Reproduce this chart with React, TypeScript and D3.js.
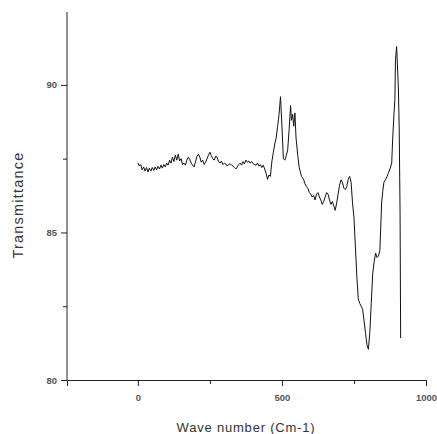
import React, { useEffect, useRef } from 'react';
import * as d3 from 'd3';

// FTIR spectrum
const waveNumber = [
	0, 5, 10, 15, 20, 25, 30, 35, 40, 45, 50, 55, 60, 65, 70, 75, 80, 85, 90, 95,
	100, 105, 110, 115, 120, 125, 130, 135, 140, 145, 150, 155, 160, 165, 170, 175, 180, 185, 190, 195,
	200, 205, 210, 215, 220, 225, 230, 235, 240, 245, 250, 255, 260, 265, 270, 275, 280, 285, 290, 295,
	300, 305, 310, 315, 320, 325, 330, 335, 340, 345, 350, 355, 360, 365, 370, 375, 380, 385, 390, 395,
	400, 405, 410, 415, 420, 425, 430, 435, 440, 445, 450, 455, 460, 465, 470, 475, 480, 485, 490, 495,
	500, 505, 510, 515, 520, 525, 530, 533, 537, 541, 545, 549, 555, 560, 568, 575, 580, 585, 590, 595,
	600, 605, 610, 615, 620, 625, 630, 635, 640, 645, 650, 655, 660, 665, 670, 675, 680, 685, 690, 695,
	700, 705, 710, 715, 720, 725, 730, 735, 740, 745, 750, 755, 760, 765, 770, 775, 780, 785, 790, 795,
	800, 805, 810, 815, 820, 825, 830, 835, 840, 846, 850, 854, 860, 865, 869, 875, 881, 884, 889, 892,
	894, 898, 904, 907, 910, 912,
];
const transmittance = [
	87.36, 87.25, 87.3, 87.12, 87.22, 87.08, 87.2, 87.05, 87.18, 87.08, 87.2, 87.1, 87.22, 87.12, 87.24, 87.15, 87.28, 87.18, 87.3, 87.22,
	87.35, 87.28, 87.45, 87.35, 87.55, 87.4, 87.62, 87.45, 87.65, 87.42, 87.5, 87.3, 87.35, 87.28, 87.45, 87.55, 87.48, 87.35, 87.28, 87.22,
	87.4, 87.58, 87.65, 87.55, 87.38, 87.45, 87.3, 87.38, 87.5, 87.62, 87.72, 87.6, 87.5, 87.45, 87.58, 87.55, 87.4, 87.35, 87.42, 87.3,
	87.35, 87.32, 87.25, 87.3, 87.33, 87.28, 87.25, 87.2, 87.15, 87.22, 87.3, 87.35, 87.28, 87.4, 87.32, 87.45, 87.38, 87.42, 87.35, 87.4,
	87.33, 87.3, 87.28, 87.35, 87.25, 87.3, 87.2, 87.28, 87.15, 87.0, 86.8, 86.95, 86.9, 87.4, 87.7, 88.0, 88.2, 88.6, 89.0, 89.6,
	88.6, 87.5, 87.45, 87.6, 87.8, 88.5, 89.3, 88.8, 89.0, 88.6, 89.05, 88.2, 87.6, 87.2, 86.9, 86.8, 86.65, 86.55, 86.5, 86.35,
	86.3, 86.2, 86.25, 86.1, 86.3, 86.35, 86.2, 86.1, 85.95, 86.05, 86.2, 86.35, 86.3, 86.1, 85.95, 86.05, 85.9, 85.75, 86.0, 86.3,
	86.6, 86.78, 86.7, 86.5, 86.45, 86.55, 86.8, 86.9, 86.7, 86.0, 85.5, 84.5, 83.5, 82.75, 82.6, 82.5, 82.4, 82.0, 81.6, 81.2,
	81.04, 81.6, 82.6, 83.6, 84.0, 84.3, 84.15, 84.2, 84.4, 86.0, 86.4, 86.7, 86.8, 86.9, 87.0, 87.15, 87.35, 88.1, 89.04, 89.5,
	90.85, 91.3, 89.95, 88.5, 85.66, 81.42,
];

const xTicks = [0, 500, 1000];
const xMinorTicks = [250, 750];
const yTicks = [80, 85, 90];
const yMinorTicks = [82.5, 87.5];

const width = 437;
const height = 434;
const margin = { left: 67, right: 11, top: 12, bottom: 54 };

export default function App() {
	const ref = useRef<SVGSVGElement>(null);

	useEffect(() => {
		const svg = d3.select(ref.current);
		svg.selectAll('*').remove();

		const x = d3.scaleLinear().domain([-246, 1000]).range([margin.left, width - margin.right]);
		const y = d3.scaleLinear().domain([80, 92.47]).range([height - margin.bottom, margin.top]);

		const g = svg.append('g').style('font-family', '"Liberation Sans", Arial, sans-serif');

		// axes
		const xAxis = g
			.append('g')
			.attr('transform', `translate(0,${height - margin.bottom})`)
			.call(d3.axisBottom(x).tickValues(xTicks).tickSize(6).tickSizeOuter(6).tickPadding(8).tickFormat(d3.format('d')));
		g.append('g')
			.attr('transform', `translate(0,${height - margin.bottom})`)
			.call(d3.axisBottom(x).tickValues(xMinorTicks).tickSize(4).tickSizeOuter(0).tickFormat(() => ''))
			.select('.domain')
			.remove();
		const yAxis = g
			.append('g')
			.attr('transform', `translate(${margin.left},0)`)
			.call(d3.axisLeft(y).tickValues(yTicks).tickSize(6).tickSizeOuter(0).tickPadding(4).tickFormat(d3.format('d')));
		g.append('g')
			.attr('transform', `translate(${margin.left},0)`)
			.call(d3.axisLeft(y).tickValues(yMinorTicks).tickSize(4).tickSizeOuter(0).tickFormat(() => ''))
			.select('.domain')
			.remove();
		// y axis runs to the top edge
		yAxis.select('.domain').attr('d', `M0,${y(80)}V${margin.top}`);

		[xAxis, yAxis].forEach(a => {
			a.selectAll('text').attr('font-size', 9.5).attr('font-weight', 'bold').attr('fill', '#555').attr('font-family', '"Liberation Sans", Arial, sans-serif');
			a.selectAll('path,line').attr('stroke', '#222');
		});
		g.selectAll('.tick line').attr('stroke', '#222');

		// titles
		g.append('text')
			.attr('x', 246)
			.attr('y', 432)
			.attr('text-anchor', 'middle')
			.attr('font-size', 13)
			.attr('letter-spacing', 0.8)
			.attr('fill', '#333')
			.text('Wave number (Cm-1)');
		g.append('text')
			.attr('transform', `translate(23,205) rotate(-90)`)
			.attr('text-anchor', 'middle')
			.attr('font-size', 14.5)
			.attr('letter-spacing', 1.2)
			.attr('fill', '#333')
			.text('Transmittance');

		// spectrum
		const line = d3
			.line<number>()
			.x((d, i) => x(waveNumber[i]))
			.y(d => y(d));
		g.append('path')
			.datum(transmittance)
			.attr('fill', 'none')
			.attr('stroke', '#111')
			.attr('stroke-width', 1)
			.attr('d', line);
	}, []);

	return <svg ref={ref} width={width} height={height} style={{ position: 'absolute', left: 0, top: 0, background: '#fff' }} />;
}
